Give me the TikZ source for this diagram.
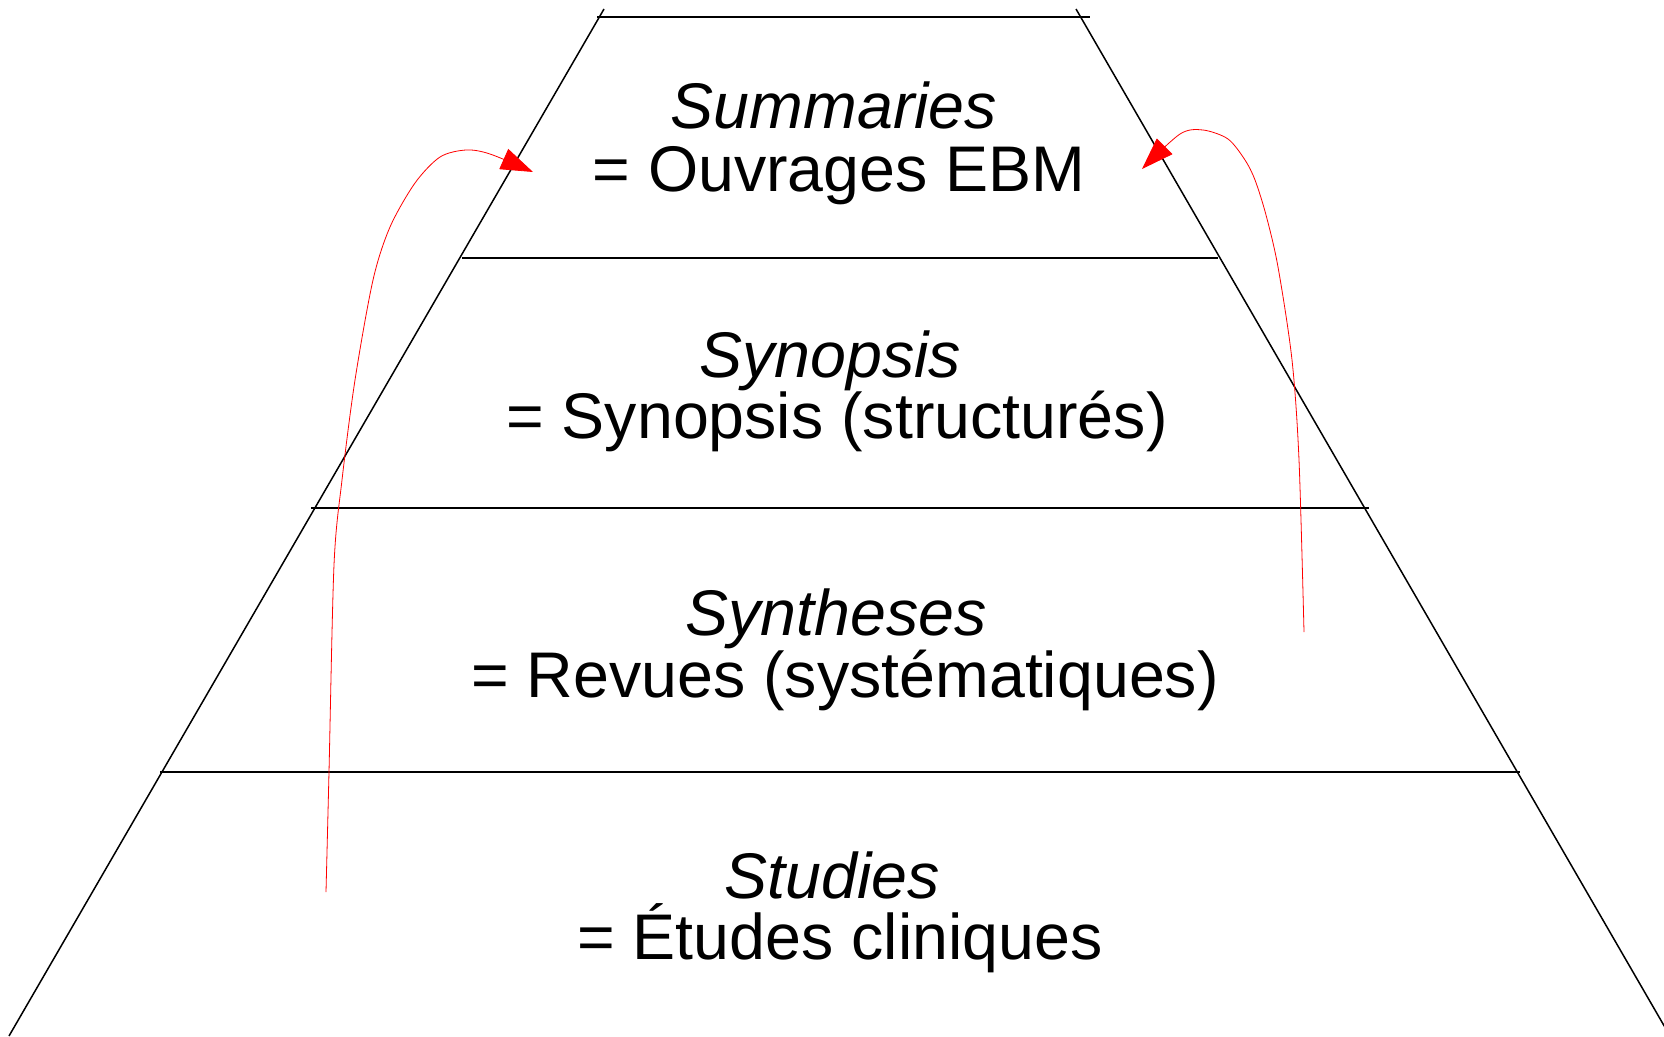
\documentclass[tikz,border=0pt]{standalone}
\usepackage{fontspec}
\setmainfont{Liberation Sans}
\usetikzlibrary{arrows.meta}
\begin{document}
\begin{tikzpicture}[x=1pt,y=-1pt,
  edge/.style={black,line width=1.5pt},
  lab/.style={anchor=base,inner sep=0pt,font=\fontsize{64.5}{64}\selectfont},
  redarrow/.style={red,line width=0.8pt,-{Triangle[length=32pt,width=22pt]}}]
\useasboundingbox (0,0) rectangle (1664,1036);
% pyramid sides
\coordinate (lt) at (604,9);
\coordinate (lb) at (9,1036);
\coordinate (rt) at (1076,9);
\coordinate (rb) at (1670,1036);
\draw[edge] (lt) -- (lb);
\draw[edge] (rt) -- (rb);
% level lines
\coordinate (h0a) at (597,17);  \coordinate (h0b) at (1090,17);
\coordinate (h1a) at (462,258); \coordinate (h1b) at (1218,258);
\coordinate (h2a) at (311,508); \coordinate (h2b) at (1369,508);
\coordinate (h3a) at (160,772); \coordinate (h3b) at (1520,772);
\draw[edge] (h0a) -- (h0b);
\draw[edge] (h1a) -- (h1b);
\draw[edge] (h2a) -- (h2b);
\draw[edge] (h3a) -- (h3b);
% labels
\node[lab] (sumA) at (834,128) {\itshape Summaries};
\node[lab] (sumB) at (839,191) {= Ouvrages EBM};
\node[lab] (synA) at (830,377) {\itshape Synopsis};
\node[lab] (synB) at (837,438) {= Synopsis (structurés)};
\node[lab] (sthA) at (836,635) {\itshape Syntheses};
\node[lab] (sthB) at (845,697) {= Revues (systématiques)};
\node[lab] (stdA) at (832,898) {\itshape Studies};
\node[lab] (stdB) at (840,959) {= Études cliniques};
% red arrows
\coordinate (ls) at (326,892);
\coordinate (le) at (533,172);
\coordinate (rs) at (1304,632);
\coordinate (re) at (1142,169);
\draw[redarrow] plot[smooth,tension=0.5] coordinates {(ls) (329,772) (334,565) (342,480) (355,380) (373,280) (390,227) (415,183) (440,157) (466,150) (490,154) (le)};
\draw[redarrow] plot[smooth,tension=0.5] coordinates {(rs) (1299,460) (1292,360) (1278,267) (1266,215) (1255,180) (1245,160) (1228,139) (1203,130) (1180,134) (re)};
\end{tikzpicture}
\end{document}
